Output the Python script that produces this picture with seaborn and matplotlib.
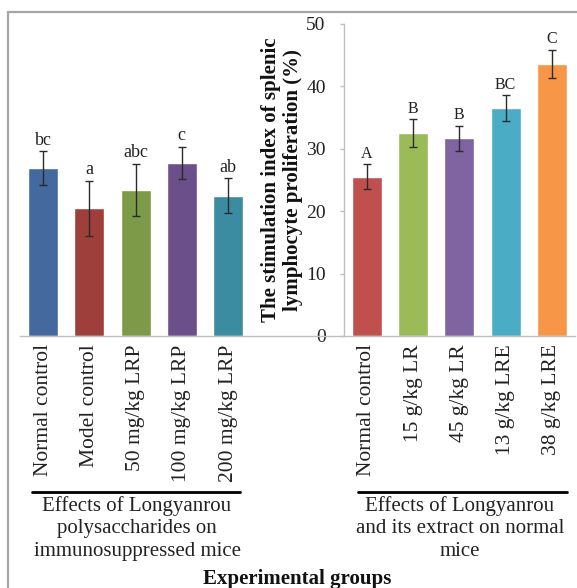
import pandas as pd
import numpy as np
import matplotlib
matplotlib.use('Agg')
import matplotlib.pyplot as plt
import matplotlib.transforms as mtransforms
from matplotlib.lines import Line2D
from matplotlib.patches import Rectangle
import seaborn as sns

# left group: immunosuppressed mice
left_groups = ['Normal control', 'Model control', '50 mg/kg LRP',
               '100 mg/kg LRP', '200 mg/kg LRP']
left_means = [26.9, 20.5, 23.4, 27.7, 22.5]
left_err = [2.7, 4.4, 4.2, 2.6, 2.8]
left_letters = ['bc', 'a', 'abc', 'c', 'ab']
left_colors = ['#43699F', '#9E3F3C', '#7D9A48', '#6A4F8A', '#3B8CA0']

# right group: normal mice
right_groups = ['Normal control', '15 g/kg LR', '45 g/kg LR',
                '13 g/kg LRE', '38 g/kg LRE']
right_means = [25.5, 32.5, 31.7, 36.5, 43.6]
right_err = [2.0, 2.2, 2.0, 2.1, 2.3]
right_letters = ['A', 'B', 'B', 'BC', 'C']
right_colors = ['#C0504D', '#9BBB59', '#8064A2', '#4BACC6', '#F79646']

left_title = 'Effects of Longyanrou\npolysaccharides on\nimmunosuppressed mice'
right_title = 'Effects of Longyanrou\nand its extract on normal\nmice'

sns.set_theme(style='white')
plt.rcParams['font.family'] = ['Liberation Serif', 'DejaVu Serif']

# unique keys per bar, two empty slots between the groups
left_keys = ['L%d' % i for i in range(5)]
right_keys = ['R%d' % i for i in range(5)]
order = left_keys + ['gap1', 'gap2'] + right_keys

df = pd.DataFrame({
    'key': left_keys + right_keys,
    'label': left_groups + right_groups,
    'value': left_means + right_means,
    'err': left_err + right_err,
    'letter': left_letters + right_letters,
})
palette = dict(zip(left_keys + right_keys, left_colors + right_colors))

fig = plt.figure(figsize=(5.77, 5.88), dpi=100)
ax = fig.add_axes([20 / 577, 0.4286, 555 / 577, 0.5306])

sns.barplot(data=df, x='key', y='value', hue='key', order=order,
            palette=palette, saturation=1, width=0.65, legend=False,
            errorbar=None, ax=ax)

pos = [order.index(k) for k in df['key']]
ax.errorbar(pos, df['value'], yerr=df['err'], fmt='none',
            ecolor='#2b2b2b', elinewidth=1, capsize=3, capthick=1)
for p, v, e, t in zip(pos, df['value'], df['err'], df['letter']):
    fs = 13 if t.islower() else 11.5
    ax.text(p, v + e + 0.4, t, ha='center', va='bottom', fontsize=fs,
            color='#222222')

ax.set_xlim(-0.5, 11.5)
ax.set_ylim(0, 50)
ax.set_yticks(np.arange(0, 51, 10))

# y axis sits between the two groups
ax.spines['left'].set_position(('data', 6.5))
ax.spines['right'].set_visible(False)
ax.spines['top'].set_visible(False)
for s in ['left', 'bottom']:
    ax.spines[s].set_color('#BFBFBF')
    ax.spines[s].set_linewidth(1)
ax.tick_params(axis='y', direction='out', length=3, width=1,
               color='#BFBFBF', pad=10, labelsize=14, labelcolor='#222222',
               left=True)
ax.tick_params(axis='x', length=0, pad=6)

ax.set_xticks(pos)
ax.set_xticklabels(df['label'], rotation=90, fontsize=15.5, color='#222222')
ax.set_xlabel('')
ax.set_ylabel('The stimulation index of splenic\nlymphocyte proliferation (%)',
              fontsize=15, fontweight='bold', linespacing=1.15, labelpad=2,
              color='#111111')

# group brackets under the category labels
trans = mtransforms.blended_transform_factory(ax.transData, fig.transFigure)
for x0, x1, xc, txt in [(-0.25, 4.26, 2.03, left_title),
                        (6.81, 11.33, 9.01, right_title)]:
    fig.add_artist(Line2D([x0, x1], [0.1638, 0.1638], transform=trans,
                          color='black', lw=2))
    fig.text(xc, 0.157, txt, transform=trans, ha='center', va='top',
             fontsize=15, linespacing=1.25, color='#222222')

fig.text(0.515, 0.016, 'Experimental groups', ha='center', va='center',
         fontsize=15, fontweight='bold', color='#111111')

# grey chart frame
fig.add_artist(Rectangle((8 / 577, -0.1), 1.2, 0.9796 + 0.1,
                         transform=fig.transFigure, fill=False,
                         edgecolor='#A6A6A6', lw=1.6))

fig.savefig('out.png', dpi=100)
